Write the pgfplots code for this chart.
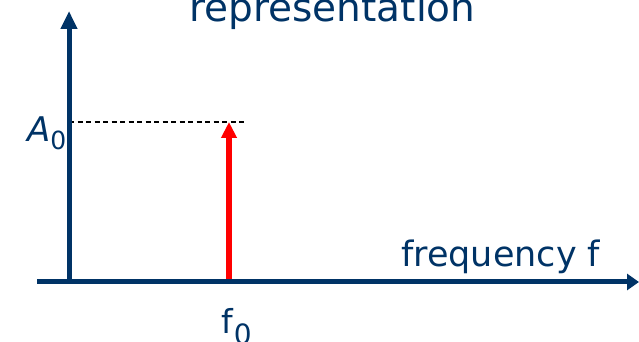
\documentclass[border=0pt]{standalone}
\usepackage{pgfplots}
\pgfplotsset{compat=1.18}
\usepackage{fontspec}
\setmainfont{DejaVu Sans}
\usetikzlibrary{arrows.meta}
\definecolor{navy}{RGB}{0,51,102}
\begin{document}
\begin{tikzpicture}
\begin{axis}[
  scale only axis, width=639pt, height=342pt,
  xmin=0, xmax=639, ymin=0, ymax=342,
  hide axis, clip=false,
]
% red spectral line
\addplot[red, line width=5.5pt, -{Triangle[length=16pt,width=15pt]}] coordinates {(229,60) (229,220)};
% dashed level line
\addplot[black, line width=1.5pt, dash pattern=on 5pt off 3.5pt] coordinates {(69,220) (245,220)};
% axes
\addplot[navy, line width=5pt, -{Triangle[length=12pt,width=16pt]}] coordinates {(37,60) (639,60)};
\addplot[navy, line width=5pt, -{Triangle[length=18pt,width=16pt]}] coordinates {(69,60) (69,331)};
% labels
\node[navy, anchor=base, inner sep=0pt, font=\fontsize{39}{40}\selectfont] at (axis cs:332.5,320) {representation};
\node[navy, anchor=base west, inner sep=0pt, font=\fontsize{35}{36}\selectfont] at (axis cs:401,75) {frequency f};
\node[navy, anchor=base west, inner sep=0pt, font=\fontsize{34}{35}\selectfont] at (axis cs:27,200) {\itshape A\upshape\fontsize{25}{26}\selectfont\raisebox{-8pt}{0}};
\node[navy, anchor=base west, inner sep=0pt, font=\fontsize{33}{34}\selectfont] at (axis cs:221,9) {f\hspace{1pt}\fontsize{28}{29}\selectfont\raisebox{-11pt}{0}};
\end{axis}
\pgfresetboundingbox
\useasboundingbox (0,0) rectangle (639pt,342pt);
\end{tikzpicture}
\end{document}
